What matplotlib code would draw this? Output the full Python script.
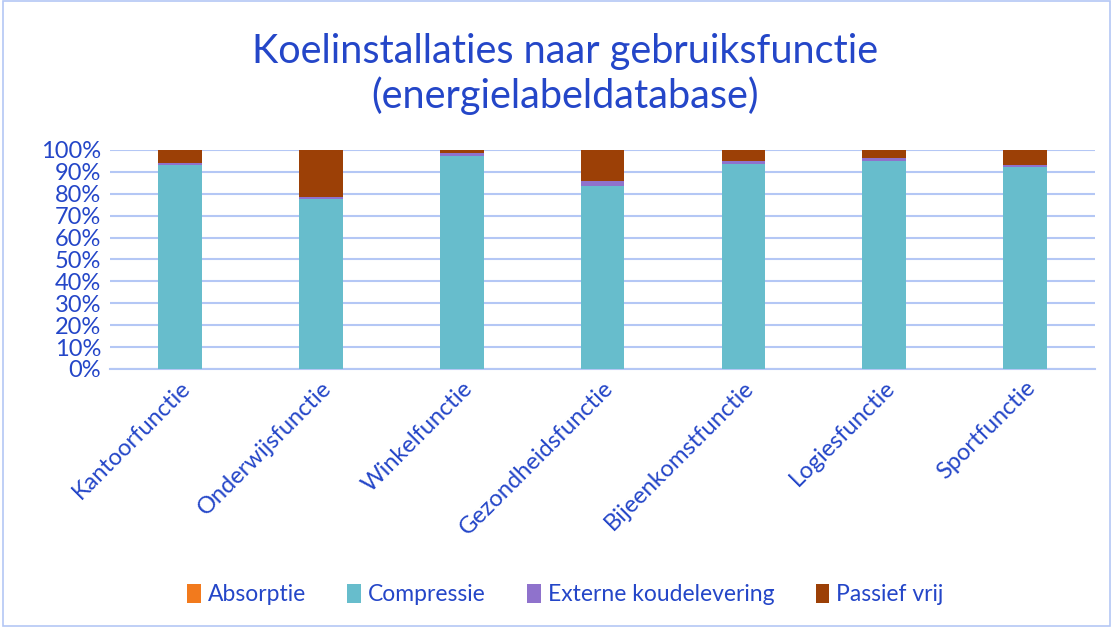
import numpy as np
import matplotlib.pyplot as plt
from matplotlib.ticker import PercentFormatter

# Data (shares per gebruiksfunctie)
categories = ["Kantoorfunctie", "Onderwijsfunctie", "Winkelfunctie", "Gezondheidsfunctie",
              "Bijeenkomstfunctie", "Logiesfunctie", "Sportfunctie"]
absorptie = [0.1, 0.1, 0.0, 0.1, 0.1, 0.1, 0.1]
compressie = [92.9, 77.4, 97.2, 83.4, 93.5, 94.8, 92.2]
externe = [1.0, 1.2, 1.4, 2.3, 1.4, 1.4, 0.9]
passief = [6.0, 21.3, 1.4, 14.2, 5.0, 3.7, 6.8]

text_color = "#2446C8"
grid_color = "#B4C7F5"
plt.rcParams['font.family'] = ['Lato', 'DejaVu Sans']

fig = plt.figure(figsize=(11.13, 6.27), dpi=100)
ax = fig.add_axes([0.0985, 0.4115, 0.8857, 0.3495])

x = np.arange(len(categories))
width = 0.31
series = [
    ("Absorptie", absorptie, "#F27A1D"),
    ("Compressie", compressie, "#67BDCC"),
    ("Externe koudelevering", externe, "#8F72CC"),
    ("Passief vrij", passief, "#9C4006"),
]
bottom = np.zeros(len(categories))
for label, values, color in series:
    vals = np.array(values) / 100.0
    ax.bar(x, vals, width, bottom=bottom, color=color, label=label, zorder=3)
    bottom += vals

ax.set_ylim(0, 1)
ax.set_xlim(-0.5, len(categories) - 0.5)
ax.set_yticks(np.arange(0, 1.01, 0.1))
ax.yaxis.set_major_formatter(PercentFormatter(1.0, decimals=0))
ax.grid(axis='y', color=grid_color, linewidth=1.5, zorder=0)
for side in ['top', 'right', 'left']:
    ax.spines[side].set_visible(False)
ax.spines['bottom'].set_color(grid_color)
ax.spines['bottom'].set_linewidth(1.5)
ax.tick_params(axis='both', length=0, labelsize=17, colors=text_color, pad=6)
ax.set_xticks(x)
ax.set_xticklabels(categories, rotation=45, ha='right', rotation_mode='anchor')

fig.text(0.508, 0.882, "Koelinstallaties naar gebruiksfunctie\n(energielabeldatabase)",
         ha='center', va='center', fontsize=28.5, color=text_color, linespacing=1.2)

leg = fig.legend(loc='center', bbox_to_anchor=(0.508, 0.052), ncol=4, frameon=False,
                 fontsize=16.5, handlelength=0.6, handleheight=0.9, handletextpad=0.3,
                 columnspacing=1.8)
for t in leg.get_texts():
    t.set_color(text_color)

# light outer border
fig.patches.append(plt.Rectangle((0.003, 0.002), 0.994, 0.996, transform=fig.transFigure,
                                 fill=False, edgecolor=grid_color, linewidth=1.2))

fig.savefig("out.png", dpi=100)
